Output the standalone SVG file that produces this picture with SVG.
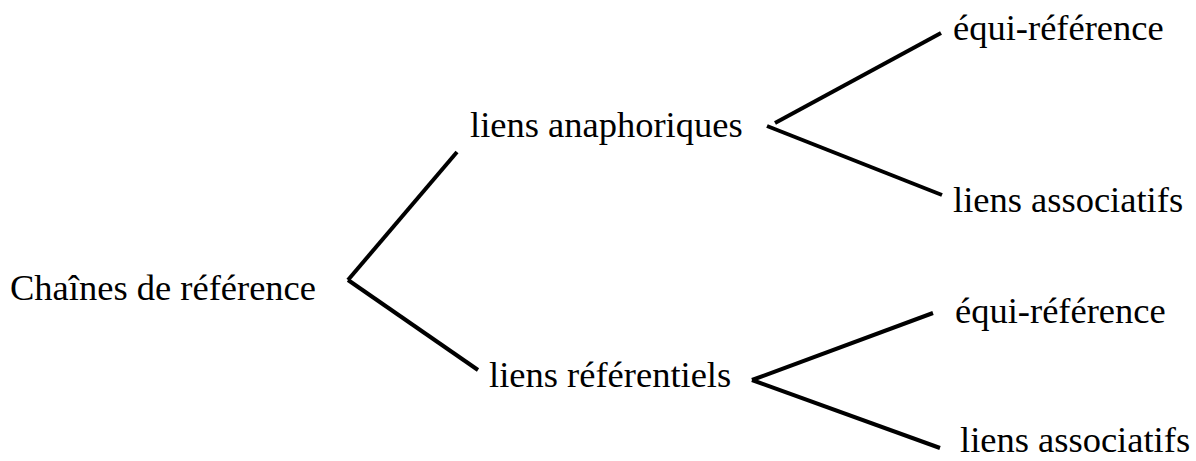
<svg xmlns="http://www.w3.org/2000/svg" width="1196" height="461" viewBox="0 0 1196 461">
<style>
text{font-family:'Liberation Serif',serif;font-size:36.5px;fill:#000}
line{stroke:#000;stroke-width:4;stroke-linecap:butt}
</style>
<rect width="1196" height="461" fill="#fff"/>
<g id="connectors">
<line x1="348" y1="280" x2="457" y2="152"/>
<line x1="348" y1="280" x2="478" y2="370"/>
<line x1="775" y1="123" x2="941" y2="33"/>
<line x1="767" y1="126" x2="942" y2="195"/>
<line x1="752" y1="380" x2="933" y2="313"/>
<line x1="752" y1="380" x2="940" y2="448"/>
</g>
<g id="root"><text x="10" y="300">Chaînes de référence</text></g>
<g id="anaphoriques"><text x="470" y="137">liens anaphoriques</text></g>
<g id="referentiels"><text x="489" y="387">liens référentiels</text></g>
<g id="equi1"><text x="953" y="40">équi-référence</text></g>
<g id="assoc1"><text x="953" y="212">liens associatifs</text></g>
<g id="equi2"><text x="955" y="323">équi-référence</text></g>
<g id="assoc2"><text x="960" y="452">liens associatifs</text></g>
</svg>
